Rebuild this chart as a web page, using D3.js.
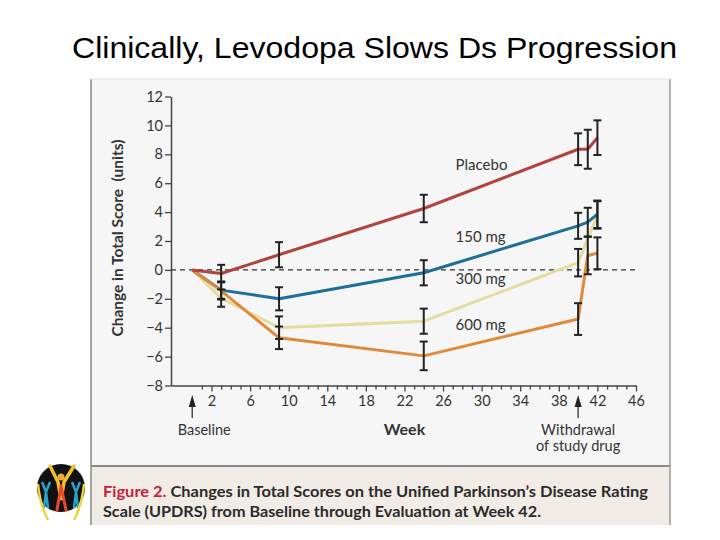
<!DOCTYPE html>
<html><head><meta charset="utf-8">
<script src="https://cdn.jsdelivr.net/npm/d3@7"></script>
<style>
html,body{margin:0;padding:0;background:#fff;}
svg{display:block;}
</style></head>
<body>
<svg id="chart" width="720" height="540"></svg>
<script>
// ---- data ----
const titleText = "Clinically, Levodopa Slows Ds Progression";
const yTicks = [-8,-6,-4,-2,0,2,4,6,8,10,12];
const xTickLabels = [2,6,10,14,18,22,26,30,34,38,42,46];
const seriesNames = ["Placebo","150 mg","300 mg","600 mg"];

const placeboWeeks = [0,3,9,24,40,41,42];
const placeboValues = [0,-0.25,1.05,4.25,8.35,8.35,9.15];
const placeboErr = [0,0.6,0.87,0.95,1.1,1.35,1.2];

const mg150Weeks = [0,3,9,24,40,41,42];
const mg150Values = [0,-1.4,-2.0,-0.2,3.05,3.3,3.85];
const mg150Err = [0,0.6,0.8,0.87,0.9,1.0,0.95];

const mg300Weeks = [0,3,9,24,40,42];
const mg300Values = [0,-1.95,-4.0,-3.55,0.5,3.8];
const mg300Err = [0,0.6,0.78,0.87,0.95,0.95];

const mg600Weeks = [0,3,9,24,40,41,42];
const mg600Values = [0,-1.45,-4.7,-5.95,-3.4,1.0,1.15];
const mg600Err = [0,0.6,0.78,0.99,1.1,1.3,1.1];

const labelValues = {"Placebo":6.9,"150 mg":1.95,"300 mg":-0.95,"600 mg":-4.15};
const baselineWeek = 0, withdrawalWeek = 40;
const captionRed = "Figure 2.";
const captionLine1 = " Changes in Total Scores on the Unified Parkinson\u2019s Disease Rating";
const captionLine2 = "Scale (UPDRS) from Baseline through Evaluation at Week 42.";

// ---- build ----
const svg = d3.select("#chart");
const FONT = "Lato, 'Open Sans', sans-serif";
const TXT = "#333";

// title
svg.append("text").attr("x",374.5).attr("y",58).attr("text-anchor","middle")
  .attr("font-family","'Liberation Sans', Arial, sans-serif").attr("font-size",29)
  .attr("textLength",605).attr("lengthAdjust","spacingAndGlyphs")
  .attr("fill","#000").text(titleText);

// panels
svg.append("rect").attr("x",91).attr("y",79).attr("width",579).attr("height",387).attr("fill","#f6f6f6");
svg.append("rect").attr("x",91).attr("y",466).attr("width",579).attr("height",59).attr("fill","#f1ece5");
svg.append("line").attr("x1",91).attr("x2",670).attr("y1",466).attr("y2",466).attr("stroke","#8a8a8a").attr("stroke-width",2);
svg.append("line").attr("x1",91).attr("x2",91).attr("y1",79).attr("y2",525).attr("stroke","#8a8a8a").attr("stroke-width",1.5);
svg.append("line").attr("x1",670).attr("x2",670).attr("y1",79).attr("y2",525).attr("stroke","#9a9a9a").attr("stroke-width",1.5);
svg.append("line").attr("x1",91).attr("x2",670).attr("y1",79).attr("y2",79).attr("stroke","#e2e2e2").attr("stroke-width",1);

// scales
const x = d3.scaleLinear().domain([-2.2,46]).range([171,636]);
const y = d3.scaleLinear().domain([-8,12]).range([385.5,96.5]);

// y axis
const yAxis = svg.append("g").attr("transform",`translate(${x(-2.2)},0)`)
  .call(d3.axisLeft(y).tickValues(yTicks).tickSize(6).tickSizeOuter(0)
    .tickFormat(d => d<0 ? "\u2212"+Math.abs(d) : d));
yAxis.select(".domain").attr("stroke","#444").attr("stroke-width",1.5);
yAxis.selectAll(".tick line").attr("stroke","#444").attr("stroke-width",1.3);
yAxis.selectAll(".tick text").attr("font-family",FONT).attr("font-size",14.5).attr("fill",TXT).attr("x",-8);

// x axis
const xAxis = svg.append("g").attr("transform",`translate(0,${y(-8)})`)
  .call(d3.axisBottom(x).tickValues(d3.range(1,47)).tickSize(4).tickSizeOuter(0)
    .tickFormat(d => xTickLabels.includes(d) ? d : ""));
xAxis.select(".domain").attr("stroke","#444").attr("stroke-width",1.5);
xAxis.selectAll(".tick line").attr("stroke","#444").attr("stroke-width",1.3)
  .attr("y2", d => xTickLabels.includes(d) ? 6 : 4);
xAxis.selectAll(".tick text").attr("font-family",FONT).attr("font-size",14.5).attr("fill",TXT).attr("y",10);

// zero dashed line
svg.append("line").attr("x1",x(-2.2)).attr("x2",x(46)).attr("y1",y(0)).attr("y2",y(0))
  .attr("stroke","#333").attr("stroke-width",1.3).attr("stroke-dasharray","5,4");

// series
const series = [
  {name:"300 mg", weeks:mg300Weeks, values:mg300Values, err:mg300Err, color:"#e5dc9f"},
  {name:"150 mg", weeks:mg150Weeks, values:mg150Values, err:mg150Err, color:"#1f6f9b"},
  {name:"600 mg", weeks:mg600Weeks, values:mg600Values, err:mg600Err, color:"#e0893b"},
  {name:"Placebo", weeks:placeboWeeks, values:placeboValues, err:placeboErr, color:"#b2443f"}
];
const line = d3.line().x(d=>x(d.w)).y(d=>y(d.v));
series.forEach(s=>{
  const pts = s.weeks.map((w,i)=>({w, v:s.values[i], e:s.err[i]}));
  svg.append("path").datum(pts).attr("d",line).attr("fill","none")
    .attr("stroke",s.color).attr("stroke-width",3).attr("stroke-linejoin","round");
  s.pts = pts;
});
series.forEach(s=>{
  s.pts.filter(p=>p.e>0).forEach(p=>{
    const g = svg.append("g").attr("stroke","#222").attr("stroke-width",2);
    g.append("line").attr("x1",x(p.w)).attr("x2",x(p.w)).attr("y1",y(p.v-p.e)).attr("y2",y(p.v+p.e));
    g.append("line").attr("x1",x(p.w)-4).attr("x2",x(p.w)+4).attr("y1",y(p.v-p.e)).attr("y2",y(p.v-p.e));
    g.append("line").attr("x1",x(p.w)-4).attr("x2",x(p.w)+4).attr("y1",y(p.v+p.e)).attr("y2",y(p.v+p.e));
  });
});

// series labels
seriesNames.forEach(n=>{
  svg.append("text").attr("x",x(27.3)).attr("y",y(labelValues[n])).attr("font-family",FONT)
    .attr("font-size",15).attr("fill",TXT).text(n);
});

// axis titles
svg.append("text").attr("transform",`translate(123,${y(2.2)}) rotate(-90)`).attr("text-anchor","middle")
  .attr("font-family",FONT).attr("font-weight","bold").attr("font-size",15.5).attr("fill",TXT)
  .text("Change in Total Score\u00a0\u00a0(units)");
svg.append("text").attr("x",x(22)).attr("y",435).attr("text-anchor","middle")
  .attr("font-family",FONT).attr("font-weight","bold").attr("font-size",16).attr("fill",TXT).text("Week");

// arrows
function arrow(wk){
  const ax = x(wk);
  svg.append("line").attr("x1",ax).attr("x2",ax).attr("y1",404).attr("y2",418).attr("stroke","#333").attr("stroke-width",1.3);
  svg.append("path").attr("d",`M${ax},395 L${ax-3.5},407 L${ax+3.5},407 Z`).attr("fill","#222");
}
arrow(baselineWeek); arrow(withdrawalWeek);
svg.append("text").attr("x",x(baselineWeek)+12).attr("y",435).attr("text-anchor","middle")
  .attr("font-family",FONT).attr("font-size",14.5).attr("fill",TXT).text("Baseline");
svg.append("text").attr("x",x(withdrawalWeek)).attr("y",435).attr("text-anchor","middle")
  .attr("font-family",FONT).attr("font-size",14.5).attr("fill",TXT).text("Withdrawal");
svg.append("text").attr("x",x(withdrawalWeek)).attr("y",451).attr("text-anchor","middle")
  .attr("font-family",FONT).attr("font-size",14.5).attr("fill",TXT).text("of study drug");

// caption
const c1 = svg.append("text").attr("x",103).attr("y",497).attr("font-family",FONT)
  .attr("font-weight","bold").attr("font-size",15.5).attr("fill","#2b2b2b")
  .attr("textLength",545).attr("lengthAdjust","spacingAndGlyphs");
c1.append("tspan").attr("fill","#c4213c").text(captionRed);
c1.append("tspan").text(captionLine1);
svg.append("text").attr("x",103).attr("y",517).attr("font-family",FONT)
  .attr("font-weight","bold").attr("font-size",15.5).attr("fill","#2b2b2b")
  .attr("textLength",438).attr("lengthAdjust","spacingAndGlyphs").text(captionLine2);

// logo
const logo = svg.append("g");
logo.append("circle").attr("cx",61).attr("cy",488).attr("r",24).attr("fill","#111");
logo.append("path").attr("d","M50,466 L58,482 L61,500 L64,482 L74,466").attr("fill","none").attr("stroke","#f2c12e").attr("stroke-width",3.5).attr("stroke-linecap","round");
logo.append("path").attr("d","M61,486 L57,510 M61,486 L66,510").attr("fill","none").attr("stroke","#e8482c").attr("stroke-width",3).attr("stroke-linecap","round");
logo.append("circle").attr("cx",61).attr("cy",477).attr("r",3.5).attr("fill","#f2a93a");
logo.append("path").attr("d","M42,482 L46,492 L44,508 M50,482 L46,492 L48,508").attr("fill","none").attr("stroke","#2aa3c9").attr("stroke-width",2.5);
logo.append("path").attr("d","M80,482 L76,492 L78,508 M72,482 L76,492 L74,508").attr("fill","none").attr("stroke","#2aa3c9").attr("stroke-width",2.5);
logo.append("path").attr("d","M38,484 Q40,505 48,520 M84,484 Q82,505 74,520").attr("fill","none").attr("stroke","#f2d43a").attr("stroke-width",2.5);
</script>
</body></html>
